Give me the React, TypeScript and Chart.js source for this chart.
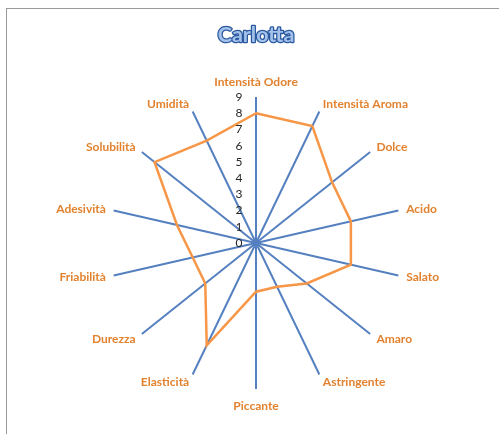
import React, { useEffect, useRef } from 'react';
import { Chart, registerables } from 'chart.js';

Chart.register(...registerables);

const TITLE = 'Carlotta';
const CATEGORIES = [
  'Intensità Odore',
  'Intensità Aroma',
  'Dolce',
  'Acido',
  'Salato',
  'Amaro',
  'Astringente',
  'Piccante',
  'Elasticità',
  'Durezza',
  'Friabilità',
  'Adesività',
  'Solubilità',
  'Umidità',
];
const VALUES = [8, 8, 6, 6, 6, 4, 3, 3, 7, 4, 4, 5, 8, 7];
const SCALE_MIN = 0;
const SCALE_MAX = 9;
const SCALE_STEP = 1;

const customText = {
  id: 'customText',
  afterDraw(chart: any) {
    const scale = chart.scales.r;
    const ctx = chart.ctx;
    ctx.save();
    // title
    ctx.font = 'bold 21.5px Lato';
    ctx.textAlign = 'center';
    ctx.textBaseline = 'middle';
    ctx.lineJoin = 'round';
    ctx.lineWidth = 2.6;
    ctx.strokeStyle = '#2c5aa0';
    ctx.fillStyle = '#a3c1ea';
    ctx.strokeText(TITLE, scale.xCenter, 26);
    ctx.fillText(TITLE, scale.xCenter, 26);

    // tick labels
    ctx.font = '12px Lato';
    ctx.fillStyle = '#262626';
    scale.ticks.forEach((t: any) => {
      const d = scale.getDistanceFromCenterForValue(t.value);
      ctx.fillText(String(t.label), scale.xCenter - 17, scale.yCenter - d);
    });

    // point labels
    ctx.font = 'bold 12px Lato';
    ctx.fillStyle = '#E2822F';
    const n = chart.data.labels.length;
    const R = scale.drawingArea;
    chart.data.labels.forEach((lab: string, i: number) => {
      const p = scale.getPointPosition(i, R + 8);
      const a = (2 * Math.PI * i) / n;
      const s = Math.sin(a);
      const c = Math.cos(a);
      let y = p.y;
      if (Math.abs(s) < 0.01) {
        ctx.textAlign = 'center';
        y = c > 0 ? p.y - 7 : p.y + 9;
      } else {
        ctx.textAlign = s > 0 ? 'left' : 'right';
      }
      ctx.fillText(lab, p.x, y);
    });
    ctx.restore();
  },
};

export default function App() {
  const ref = useRef<HTMLCanvasElement>(null);
  useEffect(() => {
    if (!ref.current) return;
    const chart = new Chart(ref.current, {
      type: 'radar',
      data: {
        labels: CATEGORIES,
        datasets: [
          {
            label: TITLE,
            data: VALUES,
            borderColor: '#F79646',
            borderWidth: 2.5,
            fill: false,
            pointRadius: 0,
            pointHoverRadius: 0,
            tension: 0,
          },
        ],
      },
      options: {
        responsive: false,
        animation: false,
        layout: { padding: { top: 88, bottom: 45, left: 6, right: 0 } },
        plugins: {
          legend: { display: false },
          tooltip: { enabled: false },
          title: { display: false },
        },
        scales: {
          r: {
            min: SCALE_MIN,
            max: SCALE_MAX,
            ticks: { stepSize: SCALE_STEP, display: false },
            grid: { display: false },
            angleLines: { display: true, color: '#5580C0', lineWidth: 2 },
            pointLabels: { display: false },
          },
        },
      },
      plugins: [customText],
    });
    return () => chart.destroy();
  }, []);
  return (
    <div
      style={{
        position: 'absolute',
        left: 6,
        top: 8,
        width: 492,
        height: 425,
        borderLeft: '1px solid #9a9a9a',
        borderTop: '1px solid #9a9a9a',
        background: '#fff',
      }}
    >
      <canvas ref={ref} width={492} height={425} style={{ display: 'block' }} />
    </div>
  );
}
